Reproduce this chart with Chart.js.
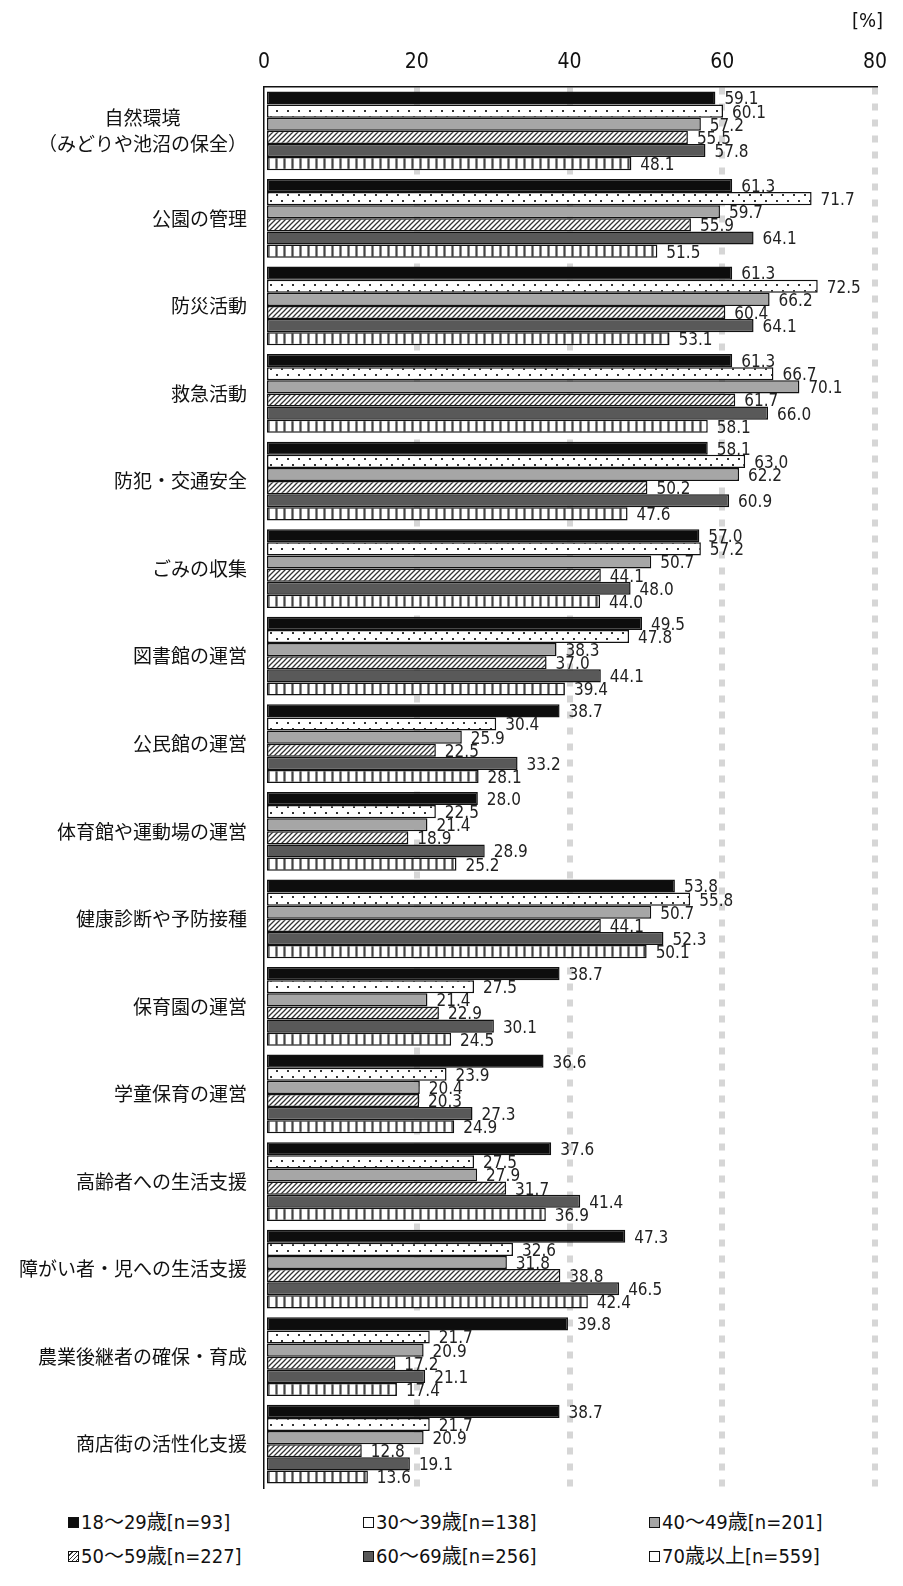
<!DOCTYPE html>
<html>
<head>
<meta charset="utf-8">
<script src="https://cdn.jsdelivr.net/npm/chart.js@4.4.1/dist/chart.umd.min.js"></script>
<style>
body { margin: 0; background: #fff; }
#wrap { position: relative; width: 903px; height: 1586px; }
#unit { position: absolute; left: 852px; top: 8px; font: 20px "DejaVu Sans Condensed", sans-serif; color: #111; }
#legend { position: absolute; left: 0; top: 1506px; width: 903px; font: 20px "DejaVu Sans Condensed", "Noto Sans CJK JP", sans-serif; color: #111; }
.item { position: absolute; white-space: nowrap; }
.mark { display: inline-block; width: 9px; height: 9px; border: 1px solid #111; margin-right: 2px; vertical-align: 1px; }
</style>
</head>
<body>
<div id="wrap">
  <canvas id="myChart" width="903" height="1500"></canvas>
  <div id="unit">[%]</div>
  <div id="legend"></div>
</div>
<script>
var categories = [
  ["自然環境", "（みどりや池沼の保全）"],
  "公園の管理",
  "防災活動",
  "救急活動",
  "防犯・交通安全",
  "ごみの収集",
  "図書館の運営",
  "公民館の運営",
  "体育館や運動場の運営",
  "健康診断や予防接種",
  "保育園の運営",
  "学童保育の運営",
  "高齢者への生活支援",
  "障がい者・児への生活支援",
  "農業後継者の確保・育成",
  "商店街の活性化支援"
];
var seriesNames = ["18～29歳[n=93]", "30～39歳[n=138]", "40～49歳[n=201]", "50～59歳[n=227]", "60～69歳[n=256]", "70歳以上[n=559]"];
var age18 = [59.1, 61.3, 61.3, 61.3, 58.1, 57.0, 49.5, 38.7, 28.0, 53.8, 38.7, 36.6, 37.6, 47.3, 39.8, 38.7];
var age30 = [60.1, 71.7, 72.5, 66.7, 63.0, 57.2, 47.8, 30.4, 22.5, 55.8, 27.5, 23.9, 27.5, 32.6, 21.7, 21.7];
var age40 = [57.2, 59.7, 66.2, 70.1, 62.2, 50.7, 38.3, 25.9, 21.4, 50.7, 21.4, 20.4, 27.9, 31.8, 20.9, 20.9];
var age50 = [55.5, 55.9, 60.4, 61.7, 50.2, 44.1, 37.0, 22.5, 18.9, 44.1, 22.9, 20.3, 31.7, 38.8, 17.2, 12.8];
var age60 = [57.8, 64.1, 64.1, 66.0, 60.9, 48.0, 44.1, 33.2, 28.9, 52.3, 30.1, 27.3, 41.4, 46.5, 21.1, 19.1];
var age70 = [48.1, 51.5, 53.1, 58.1, 47.6, 44.0, 39.4, 28.1, 25.2, 50.1, 24.5, 24.9, 36.9, 42.4, 17.4, 13.6];
var xTicks = [0, 20, 40, 60, 80];

var numFont = '"DejaVu Sans Condensed", "DejaVu Sans", sans-serif';

// fill patterns for the white bars
function makePattern(kind) {
  var c = document.createElement("canvas");
  var g = c.getContext("2d");
  if (kind == "dots") {
    c.width = 11; c.height = 12;
    g.fillStyle = "#fff"; g.fillRect(0, 0, 11, 12);
    g.fillStyle = "#333";
    g.fillRect(1, 2, 2, 2);
    g.fillRect(6, 8, 2, 2);
  } else if (kind == "hatch") {
    c.width = 5; c.height = 5;
    g.fillStyle = "#fff"; g.fillRect(0, 0, 5, 5);
    g.strokeStyle = "#333"; g.lineWidth = 1.3;
    g.beginPath();
    g.moveTo(-1, 6); g.lineTo(6, -1);
    g.moveTo(-1, 1); g.lineTo(1, -1);
    g.moveTo(4, 6); g.lineTo(6, 4);
    g.stroke();
  } else {
    c.width = 8; c.height = 8;
    g.fillStyle = "#fff"; g.fillRect(0, 0, 8, 8);
    g.fillStyle = "#8c8c8c"; g.fillRect(3, 0, 3, 8);
    g.fillStyle = "#444"; g.fillRect(4, 0, 1, 8);
  }
  return g.createPattern(c, "repeat");
}

var fills = ["#0d0d0d", makePattern("dots"), "#a6a6a6", makePattern("hatch"), "#595959", makePattern("stripes")];
var values = [age18, age30, age40, age50, age60, age70];

var datasets = [];
for (var i = 0; i < values.length; i++) {
  datasets.push({
    label: seriesNames[i],
    data: values[i],
    backgroundColor: fills[i],
    borderColor: "#111",
    borderWidth: 1.5,
    borderSkipped: false,
    barPercentage: 1,
    categoryPercentage: 0.9
  });
}

var valueLabels = {
  id: "valueLabels",
  afterDatasetsDraw: function(chart) {
    var ctx = chart.ctx;
    ctx.save();
    ctx.font = "17px " + numFont;
    ctx.fillStyle = "#222";
    ctx.textAlign = "left";
    ctx.textBaseline = "middle";
    chart.data.datasets.forEach(function(ds, di) {
      chart.getDatasetMeta(di).data.forEach(function(bar, j) {
        ctx.fillText(ds.data[j].toFixed(1), bar.x + 9, bar.y + 2);
      });
    });
    ctx.restore();
  }
};

var categoryLabels = {
  id: "categoryLabels",
  afterDraw: function(chart) {
    var ctx = chart.ctx;
    var yScale = chart.scales.y;
    ctx.save();
    ctx.font = "19px 'Noto Sans CJK JP', sans-serif";
    ctx.fillStyle = "#111";
    ctx.textAlign = "center";
    ctx.textBaseline = "middle";
    categories.forEach(function(cat, i) {
      var lines = Array.isArray(cat) ? cat : [cat];
      var w = 0;
      lines.forEach(function(l) { w = Math.max(w, ctx.measureText(l).width); });
      var cx = 247 - w / 2;
      var y = yScale.getPixelForTick(i);
      var lh = 26;
      lines.forEach(function(l, k) {
        ctx.fillText(l, cx, y + (k - (lines.length - 1) / 2) * lh);
      });
    });
    ctx.restore();
  }
};

new Chart(document.getElementById("myChart"), {
  type: "bar",
  data: { labels: categories, datasets: datasets },
  options: {
    indexAxis: "y",
    responsive: false,
    animation: false,
    layout: { padding: { left: 0, right: 28, top: 0, bottom: 12 } },
    plugins: { legend: { display: false }, tooltip: { enabled: false } },
    scales: {
      x: {
        position: "top",
        min: 0,
        max: 80,
        afterBuildTicks: function(s) { s.ticks = xTicks.map(function(v) { return { value: v }; }); },
        afterFit: function(s) { s.height = 87; },
        ticks: { padding: 12, font: { size: 21, family: numFont }, color: "#111" },
        grid: {
          drawTicks: false,
          lineWidth: 6,
          color: function(c) { return c.tick && c.tick.value === 0 ? "rgba(0,0,0,0)" : "#d6d6d6"; }
        },
        border: { display: true, color: "#111", width: 1.5, dash: [7, 9] }
      },
      y: {
        ticks: { display: false },
        afterFit: function(s) { s.width = 264; },
        grid: { display: false, drawTicks: false },
        border: { display: true, color: "#111", width: 1.5 }
      }
    }
  },
  plugins: [valueLabels, categoryLabels]
});

// legend in three columns
var legendPos = [[68, 0], [363, 0], [649, 0], [68, 34], [363, 34], [649, 34]];
var legendFill = ["#0d0d0d", "#fff", "#a6a6a6", "repeating-linear-gradient(135deg,#fff 0 2px,#333 2px 3px)", "#595959", "#fff"];
var legend = document.getElementById("legend");
seriesNames.forEach(function(name, i) {
  var d = document.createElement("div");
  d.className = "item";
  d.style.left = legendPos[i][0] + "px";
  d.style.top = legendPos[i][1] + "px";
  var m = document.createElement("span");
  m.className = "mark";
  m.style.background = legendFill[i];
  d.appendChild(m);
  d.appendChild(document.createTextNode(name));
  legend.appendChild(d);
});
</script>
</body>
</html>
